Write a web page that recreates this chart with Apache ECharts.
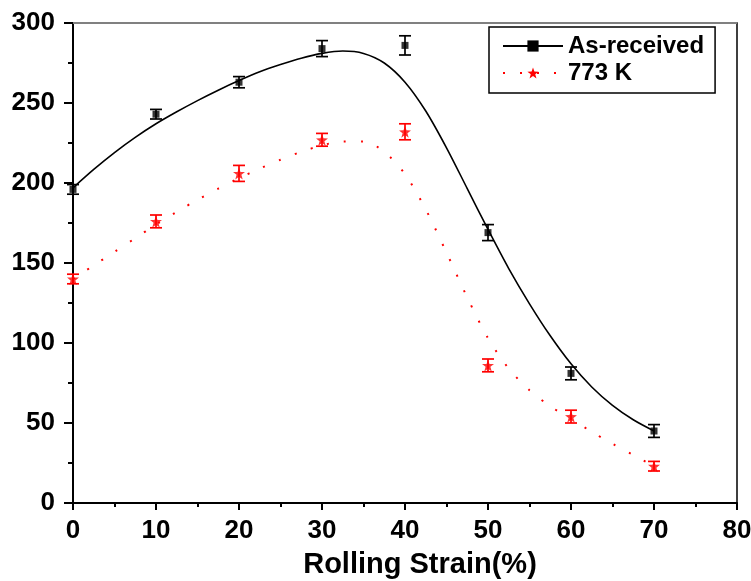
<!DOCTYPE html>
<html>
<head>
<meta charset="utf-8">
<script src="https://cdn.jsdelivr.net/npm/echarts@6/dist/echarts.min.js"></script>
<style>
  html, body { margin: 0; padding: 0; background: #fff; }
  #chart { width: 751px; height: 581px; }
</style>
</head>
<body>
<div id="chart"></div>
<script>
// measured points (strain %, value, error)
var strainX = [0, 10, 20, 30, 40, 50, 60, 70];
var asRecY = [196, 243, 263, 284, 286, 169, 81, 45];
var asRecErr = [3, 3, 3.5, 5, 6, 5, 4, 4];
var k773Y = [140, 176, 206, 227, 232, 86, 54, 23];
var k773Err = [3, 4, 5, 4, 5, 4, 4, 3];

// fitted curves
var fitX = [0, 2.5, 5, 7.5, 10, 12.5, 15, 17.5, 20, 22.5, 25, 27.5, 30, 32.5, 35,
  37.5, 40, 42.5, 45, 47.5, 50, 52.5, 55, 57.5, 60, 62.5, 65, 67.5, 70];
var asRecFit = [197, 208.5, 219, 228.5, 237, 244.5, 251.5, 258, 264, 269.5, 274, 278, 281, 282.5, 281,
  275, 263, 245, 222, 196.5, 171, 146.5, 124.5, 104.5, 87, 72.5, 61, 52, 45];
var k773Fit = [140, 148.5, 157, 165.5, 174, 182, 189.5, 196.5, 203, 209, 214.5, 219.5, 223.5, 226, 226,
  219.5, 205.5, 183.5, 156.5, 128.5, 103, 84, 70.5, 60.5, 52.5, 44.5, 37, 30, 23];

var xTicks = [0, 80, 10];
var yTicks = [0, 300, 50];

var font = "'Liberation Sans', Arial, sans-serif";
var starPath = 'path://M0,-10L2.351,-3.236L9.511,-3.09L3.804,1.236L5.878,8.09L0,4L-5.878,8.09L-3.804,1.236L-9.511,-3.09L-2.351,-3.236Z';

function pairs(xs, ys) {
  return xs.map(function (x, i) { return [x, ys[i]]; });
}
function triples(xs, ys, es) {
  return xs.map(function (x, i) { return [x, ys[i], es[i]]; });
}

function errorBars(color) {
  return function (params, api) {
    var x = api.value(0), y = api.value(1), e = api.value(2);
    var top = api.coord([x, y + e]);
    var bot = api.coord([x, y - e]);
    var hw = 6;
    var st = { stroke: color, lineWidth: 1.7 };
    return {
      type: 'group',
      children: [
        { type: 'line', shape: { x1: top[0], y1: top[1], x2: bot[0], y2: bot[1] }, style: st },
        { type: 'line', shape: { x1: top[0] - hw, y1: top[1], x2: top[0] + hw, y2: top[1] }, style: st },
        { type: 'line', shape: { x1: bot[0] - hw, y1: bot[1], x2: bot[0] + hw, y2: bot[1] }, style: st }
      ]
    };
  };
}

var myChart = echarts.init(document.getElementById('chart'));
myChart.setOption({
  animation: false,
  backgroundColor: '#fff',
  title: {
    text: 'Rolling Strain(%)',
    left: 420,
    top: 550,
    textAlign: 'center',
    padding: 0,
    textStyle: { fontFamily: font, fontWeight: 'bold', fontSize: 29, color: '#000' }
  },
  grid: {
    left: 73, right: 14, top: 23, bottom: 78,
    outerBoundsMode: 'none',
    show: true, borderColor: '#000', borderWidth: 1.5, backgroundColor: 'transparent'
  },
  legend: {
    data: ['As-received', '773 K'],
    orient: 'vertical',
    left: 489,
    top: 27,
    padding: [7, 11, 8, 13],
    borderColor: '#000',
    borderWidth: 1.5,
    itemWidth: 60,
    itemHeight: 14,
    itemGap: 3,
    textStyle: { fontFamily: font, fontWeight: 'bold', fontSize: 24, color: '#000', lineHeight: 24 }
  },
  xAxis: {
    type: 'value',
    min: xTicks[0], max: xTicks[1], interval: xTicks[2],
    axisLine: { lineStyle: { color: '#000', width: 2 } },
    axisTick: { length: 7, lineStyle: { color: '#000', width: 2 } },
    minorTick: { show: true, splitNumber: 2, length: 4, lineStyle: { color: '#000', width: 2 } },
    splitLine: { show: false },
    axisLabel: { margin: 15, fontFamily: font, fontWeight: 'bold', fontSize: 26, color: '#000' }
  },
  yAxis: {
    type: 'value',
    min: yTicks[0], max: yTicks[1], interval: yTicks[2],
    axisLine: { show: true, lineStyle: { color: '#000', width: 2 } },
    axisTick: { length: 9, lineStyle: { color: '#000', width: 2 } },
    minorTick: { show: true, splitNumber: 2, length: 5, lineStyle: { color: '#000', width: 2 } },
    splitLine: { show: false },
    axisLabel: { margin: 18, fontFamily: font, fontWeight: 'bold', fontSize: 26, color: '#000' }
  },
  series: [
    {
      name: 'As-received',
      type: 'line',
      data: pairs(fitX, asRecFit),
      smooth: 0.3,
      symbol: 'rect',
      symbolSize: 8,
      showSymbol: false,
      itemStyle: { color: '#000' },
      lineStyle: { color: '#000', width: 1.6 },
      // grey frame line along the top of the plot
      markLine: {
        silent: true,
        symbol: 'none',
        label: { show: false },
        lineStyle: { color: '#808080', width: 2, type: 'solid' },
        data: [{ yAxis: yTicks[1] }]
      },
      z: 2
    },
    {
      name: '773 K',
      type: 'line',
      data: pairs(fitX, k773Fit),
      smooth: 0.3,
      symbol: starPath,
      symbolSize: 12,
      showSymbol: false,
      itemStyle: { color: '#ff0000' },
      lineStyle: { color: '#ff0000', width: 2, type: [2, 15] },
      z: 2
    },
    {
      name: 'asRecErr',
      type: 'custom',
      renderItem: errorBars('#000'),
      data: triples(strainX, asRecY, asRecErr),
      encode: { x: 0, y: 1 },
      z: 3
    },
    {
      name: 'k773Err',
      type: 'custom',
      renderItem: errorBars('#ff0000'),
      data: triples(strainX, k773Y, k773Err),
      encode: { x: 0, y: 1 },
      z: 3
    },
    {
      name: 'asRecPts',
      type: 'scatter',
      data: pairs(strainX, asRecY),
      symbol: 'rect',
      symbolSize: 7,
      itemStyle: { color: '#000' },
      z: 4
    },
    {
      name: 'k773Pts',
      type: 'scatter',
      data: pairs(strainX, k773Y),
      symbol: starPath,
      symbolSize: 12,
      itemStyle: { color: '#ff0000' },
      z: 4
    }
  ]
});
</script>
</body>
</html>
